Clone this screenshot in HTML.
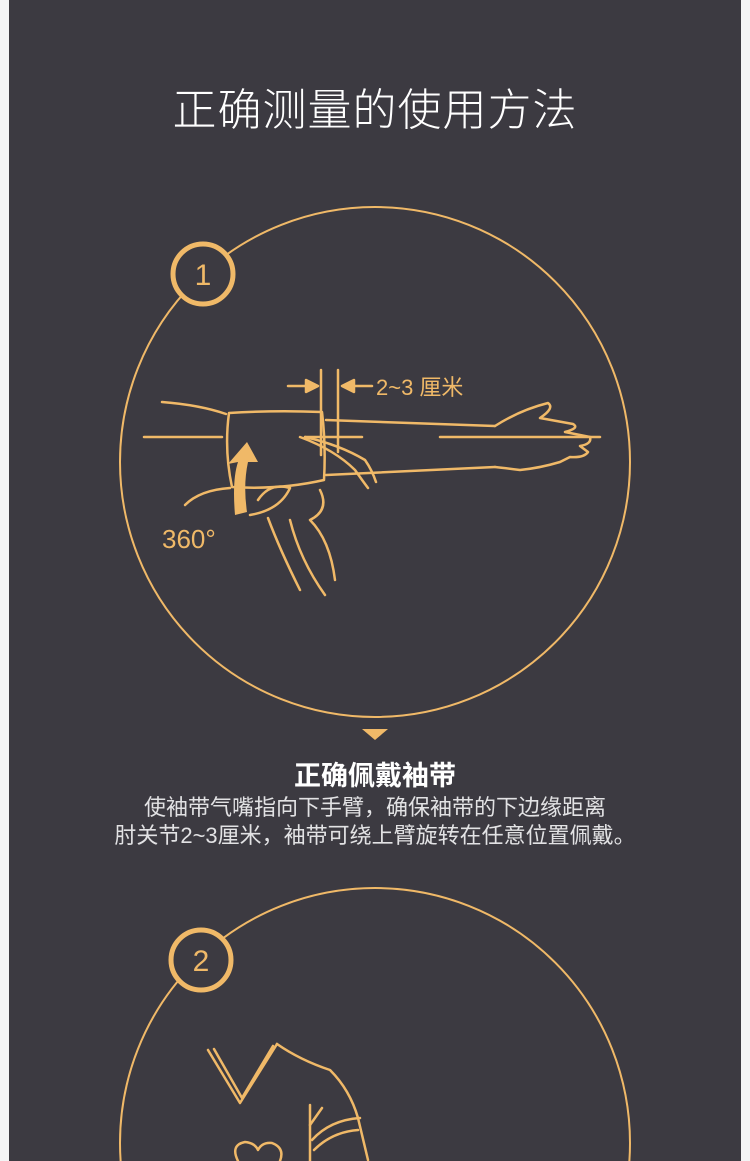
<!DOCTYPE html>
<html><head><meta charset="utf-8"><style>
html,body{margin:0;padding:0;width:750px;height:1161px;overflow:hidden;background:#f4f4f5;}
.bg{position:absolute;left:9px;top:0;width:732px;height:1161px;background:#3c3a41;}
.t{position:absolute;left:0;width:750px;text-align:center;font-family:"Liberation Sans","Noto Sans CJK SC",sans-serif;color:#fff;white-space:nowrap;}
svg{position:absolute;left:0;top:0;overflow:hidden;}
</style></head><body>
<div class="bg"></div>
<div class="t" style="top:74px;font-size:44px;font-weight:300;letter-spacing:1px;">正确测量的使用方法</div>
<svg width="750" height="1161" viewBox="0 0 750 1161">
<g fill="none" stroke="#f0b968">
<circle cx="375" cy="462" r="255" stroke-width="2"/>
<circle cx="375" cy="1143" r="255" stroke-width="2"/>
<circle cx="203" cy="274" r="30" stroke-width="5" fill="#3c3a41"/>
<circle cx="201" cy="960" r="30" stroke-width="5" fill="#3c3a41"/>
<g stroke-width="2.5" stroke-linecap="round" stroke-linejoin="round">
<line x1="144" y1="437" x2="222" y2="437"/>
<line x1="305" y1="437" x2="362" y2="437"/>
<line x1="440" y1="437" x2="600" y2="437"/>
<path d="M162 402 Q200 405 226 414"/>
<path d="M229 413 Q275 410 322 412 Q326 445 324 480 Q280 490 232 487 Q224 450 229 413Z"/>
<line x1="321" y1="370" x2="321" y2="455"/>
<line x1="338" y1="370" x2="338" y2="452"/>
<line x1="288" y1="386" x2="312" y2="386"/><path d="M306 380 L318 386 L306 392Z" fill="#f0b968"/>
<line x1="348" y1="386" x2="372" y2="386"/><path d="M354 380 L342 386 L354 392Z" fill="#f0b968"/>
<path d="M326 420 L495 426"/>
<path d="M326 475 L495 467"/>
<path d="M495 426 Q520 410 548 403 Q555 408 540 418 L573 424 Q580 428 565 432 L590 437 Q592 444 580 446 L588 452 Q584 458 570 457 L560 462 Q540 468 520 470 Q505 468 495 467"/>
<path d="M305 437 Q340 445 365 460 Q372 470 376 482"/>
<path d="M300 437 Q335 450 355 470 Q362 480 368 488"/>
<path d="M185 505 Q200 490 230 488"/>
<path d="M320 490 Q330 510 310 520 Q330 540 335 580"/>
<path d="M268 518 Q280 550 300 590"/>
<path d="M290 520 Q300 560 325 595"/>
<path d="M258 500 Q270 482 290 488 Q280 510 250 515"/>
</g>
<path d="M235 515 Q232 480 238 462 L228 464 L247 442 L258 462 L248 462 Q243 485 247 512Z" fill="#f0b968" stroke="none"/>
<g stroke-width="2.5" stroke-linecap="round" stroke-linejoin="round">
<path d="M208 1050 L240 1103 L277 1044"/>
<path d="M214 1049 L242 1098 L273 1046"/>
<path d="M277 1044 Q300 1060 330 1070 Q350 1090 358 1118 L368 1160"/>
<path d="M310 1105 L310 1161"/>
<path d="M310 1125 L322 1108"/>
<path d="M312 1140 Q330 1120 360 1118"/>
<path d="M314 1150 Q332 1132 358 1130"/>
<path d="M238 1161 Q230 1145 245 1142 Q255 1143 258 1150 Q262 1142 272 1143 Q285 1148 280 1161"/>
</g>
</g>
<g font-family="Liberation Sans,Noto Sans CJK SC,sans-serif" fill="#f0b968">
<text x="203" y="285" font-size="30" text-anchor="middle">1</text>
<text x="201" y="971" font-size="30" text-anchor="middle">2</text>
<text x="376" y="395" font-size="22">2~3 厘米</text>
<text x="162" y="548" font-size="26">360°</text>
</g>
<path d="M362 729 L388 729 L375 740Z" fill="#f0b968"/>
</svg>
<div class="t" style="top:754px;font-size:27px;font-weight:bold;">正确佩戴袖带</div>
<div class="t" style="top:790px;font-size:22px;color:#e2e2e4;">使袖带气嘴指向下手臂，确保袖带的下边缘距离</div>
<div class="t" style="top:818px;font-size:22px;color:#e2e2e4;">肘关节2~3厘米，袖带可绕上臂旋转在任意位置佩戴。</div>
</body></html>
